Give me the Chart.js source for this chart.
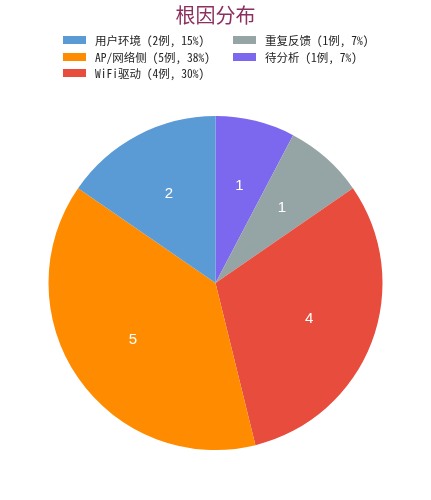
<!DOCTYPE html>
<html>
<head>
<meta charset="utf-8">
<script src="https://cdn.jsdelivr.net/npm/chart.js@4/dist/chart.umd.min.js"></script>
<style>
  html, body { margin: 0; padding: 0; background: #fff; }
  #wrap { position: relative; width: 431px; height: 500px; }
  #legend {
    position: absolute; left: 63px; top: 32px;
    display: grid; grid-auto-flow: column;
    grid-template-rows: repeat(3, 16.5px);
    grid-template-columns: 170px auto;
    font: 11.5px "Noto Sans Mono CJK SC", "Noto Sans CJK SC", sans-serif;
    color: #222;
  }
  #legend .item { display: flex; align-items: center; white-space: nowrap; }
  #legend .box { width: 23px; height: 8px; margin-right: 9px; }
</style>
</head>
<body>
<div id="wrap">
  <canvas id="pieChart"></canvas>
  <div id="legend"></div>
</div>
<script>
// legend order (matplotlib draws these counter-clockwise from the top)
const categories = ["用户环境", "AP/网络侧", "WiFi驱动", "重复反馈", "待分析"];
const counts = [2, 5, 4, 1, 1];
const percents = [15, 38, 30, 7, 7];
const colors = ["#5B9BD5", "#FF8C00", "#E74C3C", "#95A5A6", "#7B68EE"];

const fontStack = '"Noto Sans Mono CJK SC", "Noto Sans CJK SC", sans-serif';

// Chart.js goes clockwise, so flip the order
const order = categories.map((c, i) => i).reverse();

const sliceLabels = {
  id: "sliceLabels",
  afterDatasetsDraw(chart) {
    const ctx = chart.ctx;
    const meta = chart.getDatasetMeta(0);
    ctx.save();
    ctx.fillStyle = "#fff";
    ctx.font = '15px "Liberation Sans", Arial, sans-serif';
    ctx.textAlign = "center";
    ctx.textBaseline = "middle";
    meta.data.forEach((arc, i) => {
      const p = arc.getProps(["x", "y", "startAngle", "endAngle", "outerRadius"], true);
      const mid = (p.startAngle + p.endAngle) / 2;
      const r = p.outerRadius * 0.6;
      ctx.fillText(String(chart.data.datasets[0].data[i]), p.x + Math.cos(mid) * r, p.y + Math.sin(mid) * r);
    });
    ctx.restore();
  }
};

const htmlLegend = {
  id: "htmlLegend",
  afterUpdate(chart) {
    const box = document.getElementById("legend");
    box.innerHTML = "";
    const items = chart.options.plugins.legend.labels.generateLabels(chart);
    categories.forEach((c, k) => {
      const it = items.find(x => x.index === order.indexOf(k));
      const row = document.createElement("div");
      row.className = "item";
      row.innerHTML = `<span class="box" style="background:${it.fillStyle}"></span><span>${c} (${counts[k]}例, ${percents[k]}%)</span>`;
      box.appendChild(row);
    });
  }
};

new Chart(document.getElementById("pieChart"), {
  type: "pie",
  data: {
    labels: order.map(i => categories[i]),
    datasets: [{
      data: order.map(i => counts[i]),
      backgroundColor: order.map(i => colors[i]),
      borderWidth: 0
    }]
  },
  options: {
    responsive: true,
    maintainAspectRatio: false,
    animation: false,
    events: [],
    layout: { padding: { bottom: 50 } },
    plugins: {
      legend: { display: false },
      tooltip: { enabled: false },
      title: {
        display: true,
        text: "根因分布",
        color: "#8B2F5F",
        font: { size: 20, weight: "normal", family: fontStack },
        padding: { top: 3, bottom: 89 }
      }
    }
  },
  plugins: [sliceLabels, htmlLegend]
});
</script>
</body>
</html>
